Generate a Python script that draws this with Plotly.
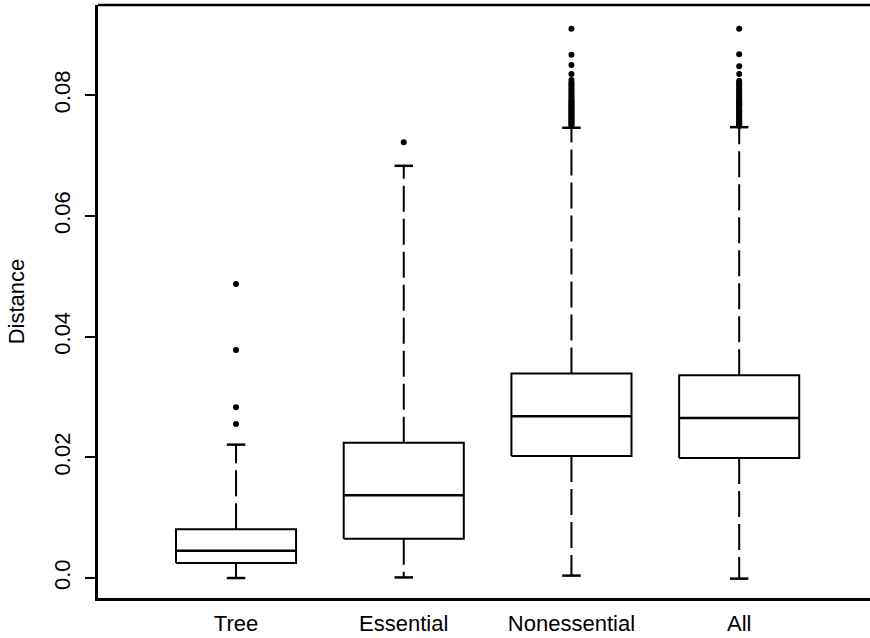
import plotly.graph_objects as go

categories = ["Tree", "Essential", "Nonessential", "All"]
q1 = [0.0025, 0.0065, 0.0202, 0.0199]
median = [0.0045, 0.0137, 0.0268, 0.0265]
q3 = [0.0081, 0.0224, 0.0339, 0.0336]
lower_whisker = [0.0, 0.0001, 0.0004, -0.0001]
upper_whisker = [0.0221, 0.0683, 0.0746, 0.0747]

outliers = [
    [0.0255, 0.0283, 0.0378, 0.0487],
    [0.0722],
    [0.0749, 0.0751, 0.0753, 0.0755, 0.0757, 0.0759, 0.0761, 0.0763, 0.0765,
     0.0767, 0.0769, 0.0771, 0.0773, 0.0775, 0.0777, 0.0779, 0.0781, 0.0783,
     0.0785, 0.0787, 0.0789, 0.0791, 0.0794, 0.0797, 0.0800, 0.0803, 0.0806,
     0.0809, 0.0812, 0.0815, 0.0818, 0.0821, 0.0825, 0.0835, 0.0850, 0.0867,
     0.0910],
    [0.0749, 0.0751, 0.0753, 0.0755, 0.0757, 0.0759, 0.0761, 0.0763, 0.0765,
     0.0767, 0.0769, 0.0771, 0.0773, 0.0775, 0.0777, 0.0779, 0.0781, 0.0783,
     0.0785, 0.0787, 0.0789, 0.0791, 0.0794, 0.0797, 0.0800, 0.0803, 0.0806,
     0.0809, 0.0812, 0.0815, 0.0818, 0.0821, 0.0824, 0.0835, 0.0848, 0.0868,
     0.0910],
]

y_ticks = [0.0, 0.02, 0.04, 0.06, 0.08]
y_tick_labels = ["0.0", "0.02", "0.04", "0.06", "0.08"]

BOX_HALF = 0.358
CAP_HALF = 0.055
LW = 2
COL = "black"

fig = go.Figure()
for i, name in enumerate(categories):
    c = i + 1
    fig.add_trace(go.Scatter(
        x=[c - BOX_HALF, c + BOX_HALF, c + BOX_HALF, c - BOX_HALF, c - BOX_HALF],
        y=[q1[i], q1[i], q3[i], q3[i], q1[i]],
        mode="lines", line=dict(color=COL, width=LW), hoverinfo="skip"))
    fig.add_trace(go.Scatter(
        x=[c - BOX_HALF, c + BOX_HALF], y=[median[i], median[i]],
        mode="lines", line=dict(color=COL, width=LW + 0.5), hoverinfo="skip"))
    fig.add_trace(go.Scatter(
        x=[c, c], y=[q3[i], upper_whisker[i]],
        mode="lines", line=dict(color=COL, width=LW, dash="26px,7px"), hoverinfo="skip"))
    fig.add_trace(go.Scatter(
        x=[c, c], y=[q1[i], lower_whisker[i]],
        mode="lines", line=dict(color=COL, width=LW, dash="26px,7px"), hoverinfo="skip"))
    for v in (upper_whisker[i], lower_whisker[i]):
        fig.add_trace(go.Scatter(
            x=[c - CAP_HALF, c + CAP_HALF], y=[v, v],
            mode="lines", line=dict(color=COL, width=LW + 0.5), hoverinfo="skip"))
    fig.add_trace(go.Scatter(
        x=[c] * len(outliers[i]), y=outliers[i], mode="markers",
        marker=dict(color=COL, size=6), hoverinfo="skip"))

FONT = "Liberation Sans, Arial, Helvetica, sans-serif"

# top frame line (extends to the right edge of the page like the scan)
fig.add_shape(type="line", xref="paper", yref="paper", x0=0, x1=1, y0=1, y1=1,
              line=dict(color="black", width=2.5))

fig.update_layout(
    width=870, height=638,
    margin=dict(l=98, r=0, t=5, b=40),
    paper_bgcolor="white", plot_bgcolor="white",
    showlegend=False,
    font=dict(family=FONT, size=22, color="black"),
    xaxis=dict(
        range=[0.177, 4.78],
        tickmode="array", tickvals=[1, 2, 3, 4], ticktext=categories,
        ticks="", showgrid=False, zeroline=False,
        showline=True, linecolor="black", linewidth=2.5, mirror=False,
        ticklabelstandoff=4,
        tickfont=dict(size=22),
    ),
    yaxis=dict(
        range=[-0.00331, 0.09494],
        tickmode="array", tickvals=y_ticks, ticktext=y_tick_labels,
        ticks="outside", ticklen=10, tickwidth=2, tickcolor="black",
        tickangle=-90, ticklabelstandoff=6,
        showgrid=False, zeroline=False,
        showline=True, linecolor="black", linewidth=2.5, mirror=False,
        title=dict(text="Distance", font=dict(size=22), standoff=20),
        tickfont=dict(size=22),
    ),
)

fig.write_html("out.html", config={"displayModeBar": False})
